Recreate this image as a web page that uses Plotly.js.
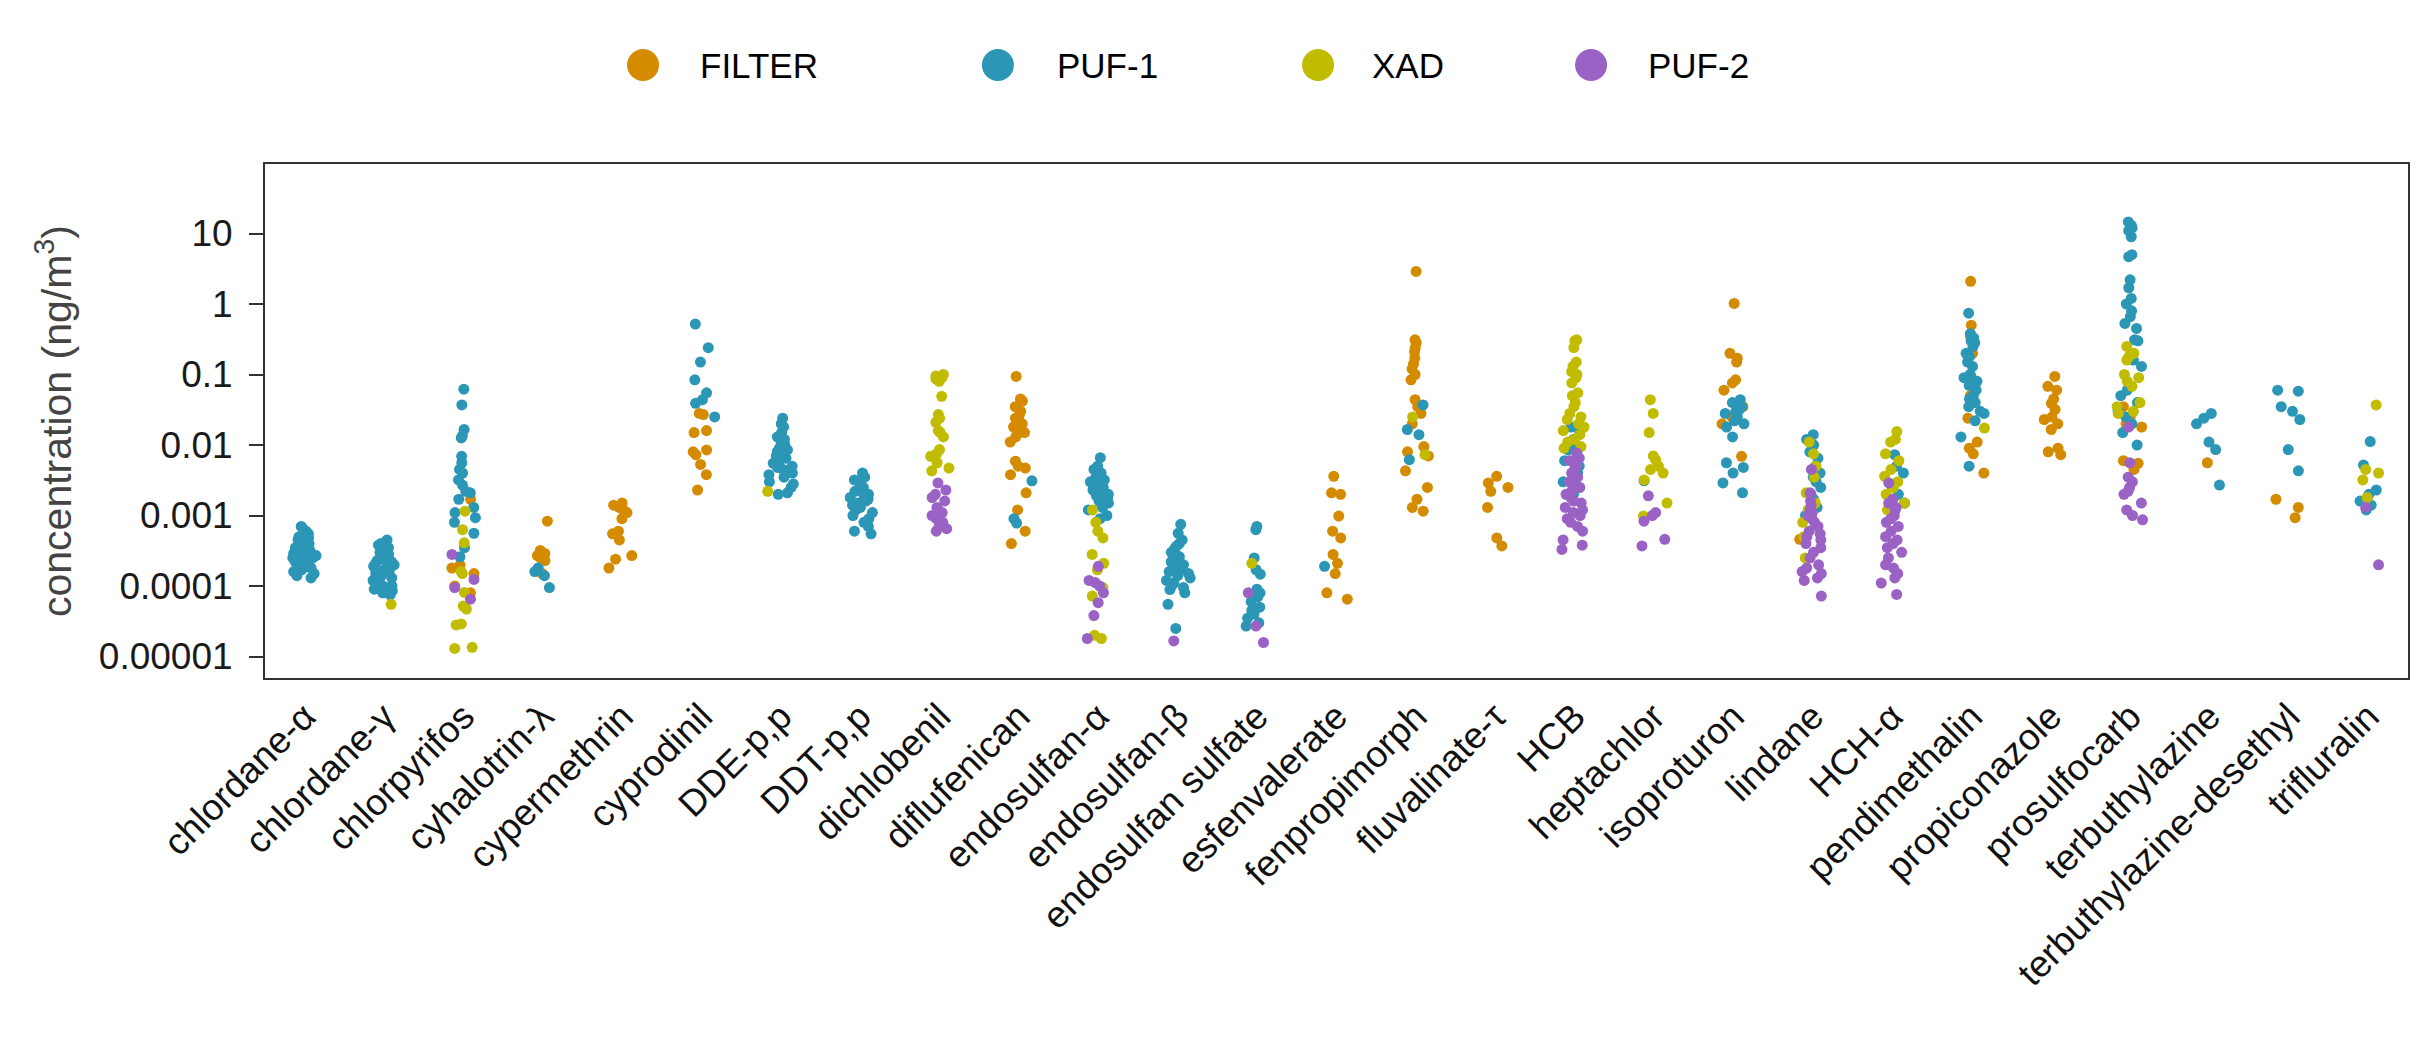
<!DOCTYPE html>
<html>
<head>
<meta charset="utf-8">
<script src="https://cdn.plot.ly/plotly-3.0.1.min.js"></script>
<style>html,body{margin:0;padding:0;background:#fff;}#chart{width:2436px;height:1038px;}</style>
</head>
<body>
<div id="chart"></div>
<script>
const categories = ['chlordane-α','chlordane-γ','chlorpyrifos','cyhalotrin-λ','cypermethrin','cyprodinil','DDE-p,p','DDT-p,p','dichlobenil','diflufenican','endosulfan-α','endosulfan-β','endosulfan sulfate','esfenvalerate','fenpropimorph','fluvalinate-τ','HCB','heptachlor','isoproturon','lindane','HCH-α','pendimethalin','propiconazole','prosulfocarb','terbuthylazine','terbuthylazine-desethyl','trifluralin'];

const seriesNames = ['FILTER', 'PUF-1', 'XAD', 'PUF-2'];
const seriesColors = ['#D58B00', '#2B96B6', '#C2BC00', '#9B62C5'];

const yTickVals = [0.00001, 0.0001, 0.001, 0.01, 0.1, 1, 10];
const yTickText = ['0.00001', '0.0001', '0.001', '0.01', '0.1', '1', '10'];

// values per category (same order as categories), ng/m3
const filterVals = [
  [], [],
  [0.0017, 0.0002, 0.00018, 0.00015, 0.0001, 0.00008],
  [0.00083, 0.00032, 0.00029, 0.00027, 0.00025, 0.00023, 0.00015],
  [0.0015, 0.0014, 0.0013, 0.0012, 0.0011, 0.0009, 0.0006, 0.00055, 0.00045, 0.00027, 0.00024, 0.00018],
  [0.028, 0.027, 0.016, 0.015, 0.0085, 0.008, 0.0073, 0.0053, 0.0038, 0.0023],
  [], [], [],
  [0.094, 0.045, 0.042, 0.035, 0.03, 0.026, 0.024, 0.02, 0.018, 0.016, 0.015, 0.013, 0.011, 0.0059, 0.005, 0.0047, 0.0038, 0.0021, 0.0012, 0.0006, 0.0004],
  [], [], [],
  [0.0036, 0.0021, 0.002, 0.00098, 0.0006, 0.00048, 0.00028, 0.00021, 0.00015, 0.00008, 0.000065],
  [2.9, 0.31, 0.28, 0.24, 0.21, 0.17, 0.14, 0.12, 0.1, 0.084, 0.044, 0.035, 0.028, 0.02, 0.0095, 0.008, 0.007, 0.0043, 0.0025, 0.0017, 0.0013, 0.00115],
  [0.0036, 0.0029, 0.0025, 0.0022, 0.0013, 0.00048, 0.00037],
  [], [],
  [1.02, 0.2, 0.17, 0.15, 0.084, 0.076, 0.06, 0.035, 0.025, 0.02, 0.0069],
  [0.00046],
  [],
  [2.1, 0.5, 0.35, 0.2, 0.094, 0.05, 0.024, 0.011, 0.009, 0.0075, 0.004],
  [0.094, 0.068, 0.06, 0.045, 0.039, 0.032, 0.025, 0.023, 0.02, 0.0166, 0.009, 0.008, 0.0073],
  [0.035, 0.025, 0.02, 0.018, 0.006, 0.0055, 0.0045],
  [0.0056],
  [0.0017, 0.0013, 0.00093],
  []
];

const puf1Vals = [
  [0.0007, 0.00065, 0.0006, 0.00055, 0.0005, 0.00048, 0.00045, 0.00042, 0.0004, 0.0004, 0.00038, 0.00036, 0.00035, 0.00034, 0.00033, 0.00032, 0.0003, 0.0003, 0.00029, 0.00028, 0.00027, 0.00026, 0.00025, 0.00025, 0.00024, 0.00023, 0.00022, 0.0002, 0.0002, 0.00019, 0.00018, 0.00017, 0.00016, 0.00015, 0.00014, 0.00013],
  [0.00045, 0.0004, 0.00038, 0.00035, 0.00033, 0.0003, 0.00028, 0.00027, 0.00025, 0.00024, 0.00023, 0.00022, 0.00021, 0.0002, 0.0002, 0.00019, 0.00018, 0.00017, 0.00016, 0.00016, 0.00015, 0.00014, 0.00013, 0.00013, 0.00012, 0.00011, 0.0001, 0.0001, 0.00009, 0.000085, 0.00008, 0.000075],
  [0.062, 0.037, 0.0166, 0.0135, 0.0126, 0.0069, 0.0056, 0.0045, 0.004, 0.0032, 0.0027, 0.0022, 0.0021, 0.0017, 0.0013, 0.0011, 0.00093, 0.0008, 0.00056, 0.00035, 0.00026],
  [0.00018, 0.00016, 0.00014, 0.000095],
  [],
  [0.52, 0.24, 0.15, 0.084, 0.055, 0.044, 0.039, 0.025],
  [0.024, 0.02, 0.018, 0.015, 0.013, 0.012, 0.011, 0.01, 0.009, 0.0085, 0.008, 0.0075, 0.007, 0.0065, 0.006, 0.0058, 0.0055, 0.005, 0.0048, 0.0045, 0.004, 0.0038, 0.0035, 0.003, 0.0028, 0.0025, 0.0021, 0.002],
  [0.004, 0.0035, 0.0032, 0.0028, 0.0025, 0.0022, 0.002, 0.0019, 0.0018, 0.0017, 0.0016, 0.0015, 0.0014, 0.0013, 0.0012, 0.0011, 0.001, 0.0009, 0.0008, 0.0007, 0.0006, 0.00055],
  [],
  [0.0031, 0.0009, 0.00078],
  [0.0066, 0.005, 0.0045, 0.004, 0.0035, 0.0032, 0.003, 0.0028, 0.0025, 0.0023, 0.0022, 0.002, 0.0019, 0.0018, 0.0016, 0.0015, 0.0013, 0.0012, 0.001, 0.0009],
  [0.00075, 0.00056, 0.00045, 0.0004, 0.00037, 0.00034, 0.0003, 0.00028, 0.00026, 0.00024, 0.00022, 0.0002, 0.00019, 0.00017, 0.00016, 0.00015, 0.00014, 0.00013, 0.00012, 0.00011, 0.0001, 0.000095, 0.000089, 0.00008, 0.000055, 0.000025],
  [0.0007, 0.00063, 0.00025, 0.00017, 0.000147, 0.00009, 0.00008, 0.00007, 0.00006, 0.00005, 0.000045, 0.00004, 0.000035, 0.00003, 0.000027],
  [0.00019],
  [0.037, 0.0166, 0.014, 0.0062],
  [],
  [0.018, 0.015, 0.012, 0.01, 0.0085, 0.0077, 0.006, 0.005, 0.004, 0.003, 0.0025, 0.002],
  [0.0031],
  [0.044, 0.04, 0.035, 0.032, 0.03, 0.028, 0.025, 0.022, 0.02, 0.018, 0.013, 0.0056, 0.0048, 0.004, 0.0029, 0.0021],
  [0.014, 0.012, 0.01, 0.008, 0.0065, 0.005, 0.004, 0.0035, 0.003, 0.0025, 0.002, 0.0017, 0.0013, 0.001],
  [0.0073, 0.005, 0.004, 0.0027, 0.002, 0.0015],
  [0.74, 0.38, 0.33, 0.3, 0.28, 0.25, 0.2, 0.18, 0.15, 0.13, 0.1, 0.09, 0.08, 0.07, 0.06, 0.05, 0.045, 0.04, 0.035, 0.03, 0.028, 0.022, 0.013, 0.005],
  [],
  [14.6, 13, 12, 11, 9, 5, 4.7, 2.2, 1.7, 1.2, 1.0, 0.8, 0.66, 0.53, 0.45, 0.31, 0.3, 0.16, 0.13, 0.06, 0.05, 0.04, 0.03, 0.025, 0.02, 0.015, 0.01],
  [0.028, 0.024, 0.02, 0.011, 0.0086, 0.0027],
  [0.06, 0.058, 0.035, 0.03, 0.023, 0.0086, 0.0043],
  [0.0112, 0.0052, 0.0023, 0.002, 0.0016, 0.0014, 0.0012]
];

const xadVals = [
  [],
  [0.000055],
  [0.00115, 0.00063, 0.00041, 0.00016, 0.00015, 0.000081, 0.000052, 0.000047, 0.000029, 0.000028, 0.0000135, 0.000013],
  [], [], [],
  [0.0022],
  [],
  [0.1, 0.095, 0.09, 0.088, 0.085, 0.08, 0.049, 0.027, 0.024, 0.021, 0.016, 0.015, 0.013, 0.0086, 0.0075, 0.0069, 0.0056, 0.0047, 0.0043],
  [],
  [0.0012, 0.0008, 0.0006, 0.00048, 0.00028, 0.00021, 0.00017, 0.000095, 0.000072, 0.00002, 0.000018],
  [],
  [0.00021],
  [],
  [0.025, 0.0073],
  [],
  [0.31, 0.3, 0.24, 0.15, 0.13, 0.11, 0.1, 0.09, 0.076, 0.055, 0.05, 0.04, 0.035, 0.028, 0.025, 0.023, 0.02, 0.018, 0.016, 0.014, 0.012, 0.011, 0.0095, 0.009],
  [0.044, 0.028, 0.015, 0.007, 0.0062, 0.005, 0.0045, 0.004, 0.0032, 0.0015, 0.00098],
  [],
  [0.011, 0.0075, 0.005, 0.0035, 0.0021, 0.0015, 0.0012, 0.0008, 0.0005, 0.00025],
  [0.0155, 0.012, 0.011, 0.0075, 0.006, 0.0045, 0.0036, 0.003, 0.0025, 0.002, 0.0015, 0.0012],
  [0.0174],
  [],
  [0.25, 0.2, 0.18, 0.16, 0.1, 0.09, 0.08, 0.068, 0.04, 0.035, 0.03, 0.028],
  [], [],
  [0.037, 0.0045, 0.004, 0.0032, 0.0018]
];

const puf2Vals = [
  [], [],
  [0.00028, 0.000124, 0.000095, 0.000065],
  [], [], [], [], [],
  [0.0029, 0.0023, 0.002, 0.0018, 0.0016, 0.0013, 0.0011, 0.001, 0.0009, 0.0008, 0.0007, 0.00065, 0.0006],
  [],
  [0.00019, 0.00012, 0.000112, 0.0001, 0.00008, 0.000058, 0.000038, 0.000018],
  [0.0000166],
  [0.00008, 0.000027, 0.0000158],
  [], [], [],
  [0.0077, 0.0065, 0.006, 0.005, 0.0045, 0.004, 0.0035, 0.003, 0.0028, 0.0025, 0.0022, 0.002, 0.0018, 0.0016, 0.0015, 0.0013, 0.0012, 0.0011, 0.001, 0.0009, 0.0008, 0.0007, 0.0006, 0.00045, 0.00038, 0.00033],
  [0.0019, 0.0011, 0.001, 0.00083, 0.00046, 0.00037],
  [],
  [0.0045, 0.0021, 0.0016, 0.0014, 0.0012, 0.0011, 0.001, 0.0009, 0.0008, 0.0007, 0.0006, 0.00055, 0.0005, 0.00045, 0.0004, 0.00035, 0.0003, 0.00025, 0.0002, 0.00018, 0.00016, 0.00015, 0.00013, 0.00012, 0.000072],
  [0.0029, 0.0017, 0.0015, 0.0013, 0.0012, 0.001, 0.0009, 0.0008, 0.0007, 0.0006, 0.0005, 0.00045, 0.0004, 0.00035, 0.0003, 0.00025, 0.0002, 0.00018, 0.00015, 0.00013, 0.00011, 0.000076],
  [], [],
  [0.018, 0.0056, 0.0035, 0.003, 0.0025, 0.0022, 0.002, 0.0015, 0.0012, 0.001, 0.00087],
  [], [],
  [0.0013, 0.0002]
];

const allVals = [filterVals, puf1Vals, xadVals, puf2Vals];

const FONT = '"Liberation Sans", Arial, sans-serif';

const traces = allVals.map((vals, s) => {
  const xs = [], ys = [];
  vals.forEach((arr, i) => arr.forEach(v => { xs.push(categories[i]); ys.push(v); }));
  return {
    type: 'box', name: seriesNames[s], x: xs, y: ys,
    boxpoints: 'all', jitter: 0.7, pointpos: 0,
    fillcolor: 'rgba(0,0,0,0)', line: {color: 'rgba(0,0,0,0)', width: 0},
    whiskerwidth: 0,
    marker: {color: seriesColors[s], size: 11, opacity: 1, line: {width: 0}},
    hoveron: 'points', showlegend: false
  };
});

// legend keys (layout positions)
const legX = [0.1764, 0.3420, 0.4914, 0.6188];
const legTX = [0.2021, 0.3686, 0.5156, 0.6444];
const legY = 1.1926;
const shapes = seriesNames.map((n, s) => ({
  type: 'circle', xref: 'paper', yref: 'paper',
  xsizemode: 'pixel', ysizemode: 'pixel',
  xanchor: legX[s], yanchor: legY,
  x0: -16, x1: 16, y0: -16, y1: 16,
  fillcolor: seriesColors[s], line: {width: 0}
}));
const annotations = seriesNames.map((n, s) => ({
  xref: 'paper', yref: 'paper', x: legTX[s], y: legY,
  xanchor: 'left', yanchor: 'middle', showarrow: false,
  text: n, font: {family: FONT, size: 35, color: '#000'}
}));

const layout = {
  width: 2436, height: 1038,
  paper_bgcolor: '#fff', plot_bgcolor: '#fff',
  margin: {l: 265, r: 28, t: 164, b: 360, pad: 0},
  boxmode: 'overlay',
  showlegend: false,
  font: {family: FONT, color: '#1a1a1a'},
  xaxis: {
    type: 'category', categoryorder: 'array', categoryarray: categories,
    range: [-0.5, 26.5], autorange: false,
    showline: true, mirror: true, linecolor: '#333', linewidth: 2,
    ticks: '', showgrid: false, zeroline: false,
    tickangle: -45, tickfont: {family: FONT, size: 37, color: '#111'},
    automargin: false
  },
  yaxis: {
    type: 'log', range: [-5.305, 1.986], autorange: false,
    tickvals: yTickVals, ticktext: yTickText,
    ticks: 'outside', ticklen: 14, tickwidth: 2, tickcolor: '#333',
    ticklabelstandoff: 9,
    showline: true, mirror: true, linecolor: '#333', linewidth: 2,
    showgrid: false, zeroline: false,
    tickfont: {family: FONT, size: 37, color: '#1a1a1a'},
    title: {text: 'concentration (ng/m<sup>3</sup>)', font: {family: FONT, size: 41, color: '#444'}, standoff: 14},
    automargin: false
  },
  shapes: shapes,
  annotations: annotations
};

Plotly.newPlot('chart', traces, layout, {staticPlot: true, displayModeBar: false});
</script>
</body>
</html>
